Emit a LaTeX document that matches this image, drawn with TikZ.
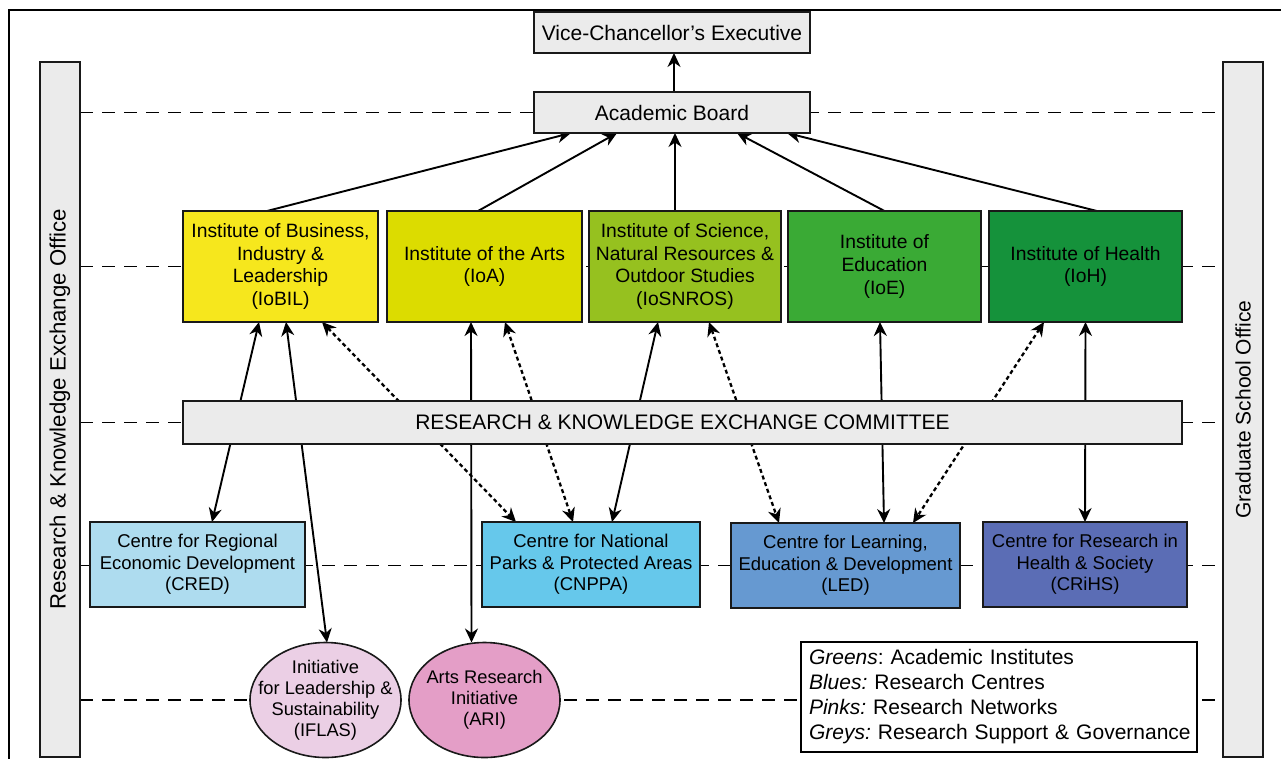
\documentclass[tikz,border=0pt]{standalone}
\usepackage{fontspec}
\setmainfont{Liberation Sans}
\usetikzlibrary{arrows.meta,shapes.geometric}
\pgfdeclarelayer{bg}
\pgfsetlayers{bg,main}
\frenchspacing
\newcommand\fbig{\fontsize{21}{25}\selectfont}
\newcommand\fside{\fontsize{22.2}{25}\selectfont}
\newcommand\finst{\fontsize{19.3}{22.6}\selectfont}
\newcommand\fcent{\fontsize{18.5}{21.5}\selectfont}
\newcommand\fell{\fontsize{18.3}{21}\selectfont}
\definecolor{cGrey}{HTML}{EBEBEB}
\definecolor{cBIL}{HTML}{F6E71D}
\definecolor{cIoA}{HTML}{DCDC00}
\definecolor{cSci}{HTML}{96C11F}
\definecolor{cIoE}{HTML}{3AAA35}
\definecolor{cIoH}{HTML}{15923B}
\definecolor{cCRED}{HTML}{AEDCEF}
\definecolor{cCNPPA}{HTML}{66C8EB}
\definecolor{cLED}{HTML}{6699D1}
\definecolor{cCRiHS}{HTML}{5B6DB5}
\definecolor{cIFLAS}{HTML}{EBCFE5}
\definecolor{cARI}{HTML}{E49EC7}
\begin{document}
\begin{tikzpicture}[x=1pt,y=-1pt,
  box/.style={draw=black!90, line width=1.6pt, inner sep=0pt, outer sep=0pt, align=center},
  greybox/.style={box, fill=cGrey, font=\fbig},
  inst/.style={box, minimum height=111pt, font=\finst},
  cent/.style={box, minimum height=85pt, font=\fcent},
  netw/.style={box, ellipse, minimum width=151pt, minimum height=115pt, inner xsep=-15pt, inner ysep=-12pt, font=\fell},
  sidebar/.style={box, fill=cGrey, minimum width=40pt, minimum height=695pt, font=\fside},
  dashline/.style={line width=1.3pt, dash pattern=on 13pt off 9pt},
  >={Stealth[length=14pt,width=13pt,inset=4.5pt]},
  up/.style={line width=1.9pt, ->},
  conn/.style={line width=1.9pt, <->},
  dconn/.style={line width=2.3pt, <->, dash pattern=on 4pt off 3pt}
]
\useasboundingbox (0,0) rectangle (1281,758);
\draw[line width=2pt] (9,800) -- (9,10) -- (1300,10);

% sidebars
\node[sidebar] (rkeo) at (60,409.5) {\rotatebox{90}{Research \& Knowledge Exchange Office}};
\node[sidebar, font=\fbig] (gso) at (1243,409.5) {\rotatebox{90}{Graduate School Office}};

% top
\node[greybox, minimum width=276pt, minimum height=41pt] (vc) at (672,32.5) {Vice-Chancellor’s Executive};
\node[greybox, minimum width=276pt, minimum height=41pt] (ab) at (672,112.5) {Academic Board};

% institutes
\node[inst, fill=cBIL, minimum width=195pt] (bil) at (280.5,266.5) {Institute of Business,\\Industry \&\\Leadership\\(IoBIL)};
\node[inst, fill=cIoA, minimum width=195pt] (ioa) at (484.5,266.5) {Institute of the Arts\\(IoA)};
\node[inst, fill=cSci, minimum width=192pt] (sci) at (685,266.5) {Institute of Science,\\Natural Resources \&\\Outdoor Studies\\(IoSNROS)};
\node[inst, fill=cIoE, minimum width=193pt] (ioe) at (884.5,266.5) {Institute of\\Education\\(IoE)};
\node[inst, fill=cIoH, minimum width=193pt] (ioh) at (1085.5,266.5) {Institute of Health\\(IoH)};

% committee
\node[greybox, minimum width=999pt, minimum height=43pt] (rkec) at (682.5,422.5) {RESEARCH \& KNOWLEDGE EXCHANGE COMMITTEE};

% centres
\node[cent, fill=cCRED, minimum width=215pt] (cred) at (197.5,564.5) {Centre for Regional\\Economic Development\\(CRED)};
\node[cent, fill=cCNPPA, minimum width=218pt] (cnppa) at (591,564.5) {Centre for National\\Parks \& Protected Areas\\(CNPPA)};
\node[cent, fill=cLED, minimum width=229pt] (led) at (845.5,565.5) {Centre for Learning,\\Education \& Development\\(LED)};
\node[cent, fill=cCRiHS, minimum width=204pt] (crihs) at (1085,564.5) {Centre for Research in\\Health \& Society\\(CRiHS)};

% networks
\node[netw, fill=cIFLAS] (iflas) at (325.5,700) {Initiative\\for Leadership \&\\Sustainability\\(IFLAS)};
\node[netw, fill=cARI] (ari) at (484.5,700) {Arts Research\\Initiative\\(ARI)};

% legend
\node[box, draw=black, fill=white, minimum width=396pt, minimum height=110pt, text width=380pt, align=left, font=\fbig] (legend) at (999,697) {\mbox{\textit{Greens}: Academic Institutes}\\\mbox{\textit{Blues:} Research Centres}\\\mbox{\textit{Pinks:} Research Networks}\\\mbox{\textit{Greys:} Research Support \& Governance}};

\begin{pgfonlayer}{bg}
  \fill[white] (0,0) rectangle (1281,758);
  \foreach \n in {ab,bil,rkec,led,iflas}
    \draw[dashline] (rkeo.east |- \n.center) -- (gso.west |- \n.center);
  \draw[up] ([xshift=-13.5pt]bil.north) -- ([xshift=-101pt]ab.south);
  \draw[up] ([xshift=-6.5pt]ioa.north) -- ([xshift=-55pt]ab.south);
  \draw[up] ([xshift=-10pt]sci.north) -- ([xshift=3pt]ab.south);
  \draw[up] (ioe.north) -- ([xshift=65pt]ab.south);
  \draw[up] ([xshift=11.5pt]ioh.north) -- ([xshift=115pt]ab.south);
  \draw[up] ([xshift=2pt]ab.north) -- ([xshift=2pt]vc.south);
  \draw[conn] ([xshift=-21.5pt]bil.south) -- ([xshift=14.5pt]cred.north);
  \draw[conn] ([xshift=5.5pt]bil.south) -- ([xshift=1.5pt]iflas.north);
  \draw[dconn] ([xshift=41.5pt]bil.south) -- ([xshift=-75pt]cnppa.north);
  \draw[conn] ([xshift=-13.5pt]ioa.south) -- ([xshift=-13pt]ari.north);
  \draw[dconn] ([xshift=20.5pt]ioa.south) -- ([xshift=-18pt]cnppa.north);
  \draw[conn] ([xshift=-27pt]sci.south) -- ([xshift=21pt]cnppa.north);
  \draw[dconn] ([xshift=24pt]sci.south) -- ([xshift=-66.5pt]led.north);
  \draw[conn] ([xshift=-4.5pt]ioe.south) -- ([xshift=38.5pt]led.north);
  \draw[dconn] ([xshift=-41.5pt]ioh.south) -- ([xshift=67.5pt]led.north);
  \draw[conn] (ioh.south) -- (crihs.north);
\end{pgfonlayer}
\end{tikzpicture}
\end{document}
